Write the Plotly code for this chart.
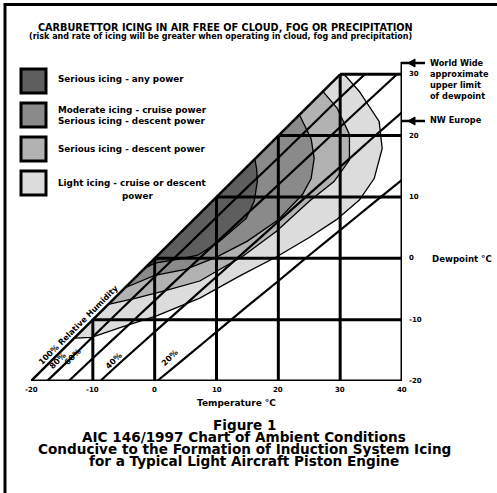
import plotly.graph_objects as go

# ---------------- data ----------------
temp_ticks = [-20, -10, 0, 10, 20, 30, 40]
dew_ticks = [-20, -10, 0, 10, 20, 30]

# relative humidity lines (temperature, dewpoint)
rh80_t = [-17.4, -15, -10, -5, 0, 5, 10, 15, 20, 25, 30, 34.0]
rh80_td = [-20, -17.7, -12.8, -7.9, -3.0, 1.8, 6.7, 11.6, 16.4, 21.3, 26.2, 30]
rh60_t = [-13.9, -10, -5, 0, 5, 10, 15, 20, 25, 30, 35, 39.2]
rh60_td = [-20, -16.3, -11.6, -6.9, -2.1, 2.6, 7.3, 12.0, 16.7, 21.4, 26.1, 30]
rh40_t = [-8.8, -5, 0, 5, 10, 15, 20, 25, 30, 35, 40]
rh40_td = [-20, -16.5, -12.0, -7.5, -3.0, 1.5, 6.0, 10.5, 14.9, 19.4, 23.8]
rh20_t = [0.4, 5, 10, 15, 20, 25, 30, 35, 40]
rh20_td = [-20, -16.2, -12.0, -7.8, -3.7, 0.5, 4.6, 8.7, 12.8]

# icing zones (boundary from 100% RH line round to 100% RH line)
light_t = [-13, -10.2, -5.6, 0.3, 7.3, 13.7, 19.8, 25, 29.4, 33.1, 35.5, 36.8, 36.3, 33.1, 31, 30.5, 30]
light_td = [-13, -12.9, -11.3, -9.4, -6.5, -2.9, 0.3, 3.4, 6.3, 9.5, 13, 17.9, 22.3, 27.2, 29.6, 30, 30]
ml_t = [-7.5, -3, 2, 7.3, 10, 14.2, 19.7, 25, 29, 31.5, 31.5, 29.5, 27.2]
ml_td = [-7.5, -6.5, -5.2, -3.7, -2.1, 0.3, 4.4, 9.3, 12.5, 16, 20.2, 24.5, 27.2]
md_t = [-4.8, 0, 5, 10, 15, 20, 23.9, 25.3, 25.8, 25.3, 23.4]
md_td = [-4.8, -2.8, -1.8, 0.2, 2.8, 6.3, 10.4, 13, 16.3, 19.5, 23.4]
dark_t = [-1.6, 0, 3, 7, 10.5, 14.8, 16.1, 16.6, 16.5, 16.2]
dark_td = [-1.6, -0.8, -0.3, 0.5, 2.8, 6.5, 9.3, 12.5, 14.5, 16.2]

zone_labels = [
    ["Serious icing - any power"],
    ["Moderate icing - cruise power", "Serious icing - descent power"],
    ["Serious icing - descent power"],
    ["Light icing - cruise or descent", "power"],
]
zone_colors = ["#5e5e5e", "#8a8a8a", "#b2b2b2", "#dcdcdc"]

rh_labels = ["100% Relative Humidity", "80%", "60%", "40%", "20%"]

title1 = "CARBURETTOR ICING IN AIR FREE OF CLOUD, FOG OR PRECIPITATION"
title2 = "(risk and rate of icing will be greater when operating in cloud, fog and precipitation)"
caption = ["Figure 1", "AIC 146/1997 Chart of Ambient Conditions",
           "Conducive to the Formation of Induction System Icing",
           "for a Typical Light Aircraft Piston Engine"]

# ---------------- layout helpers ----------------
W, H = 497, 493
L_PX, R_PX, T_PX, B_PX = 31, 402, 62, 381


def px(x):
    return (x - L_PX) / (R_PX - L_PX)


def py(y):
    return (B_PX - y) / (B_PX - T_PX)


FONT = "DejaVu Sans"
fig = go.Figure()

# zones
for t, td, col in [(light_t, light_td, zone_colors[3]), (ml_t, ml_td, zone_colors[2]),
                   (md_t, md_td, zone_colors[1]), (dark_t, dark_td, zone_colors[0])]:
    fig.add_trace(go.Scatter(x=t, y=td, fill="toself", fillcolor=col, mode="lines",
                             line=dict(color="black", width=1.3), hoverinfo="skip",
                             showlegend=False))

# grid lines clipped to the region below the 100% RH line
for v in temp_ticks[1:-1]:
    fig.add_trace(go.Scatter(x=[v, v], y=[-20, v], mode="lines",
                             line=dict(color="black", width=3), showlegend=False))
for v in dew_ticks[1:]:
    fig.add_trace(go.Scatter(x=[v, 40], y=[v, v], mode="lines",
                             line=dict(color="black", width=3), showlegend=False))
# border lines
fig.add_trace(go.Scatter(x=[-20, 40], y=[-20, -20], mode="lines",
                         line=dict(color="black", width=3), showlegend=False))
fig.add_trace(go.Scatter(x=[40, 40], y=[-20, 32], mode="lines",
                         line=dict(color="black", width=3), showlegend=False))
# 100% line
fig.add_trace(go.Scatter(x=[-20, 30], y=[-20, 30], mode="lines",
                         line=dict(color="black", width=2.5), showlegend=False))
for t, td in [(rh80_t, rh80_td), (rh60_t, rh60_td), (rh40_t, rh40_td), (rh20_t, rh20_td)]:
    fig.add_trace(go.Scatter(x=t, y=td, mode="lines", line=dict(color="black", width=2.2),
                             line_shape="spline", showlegend=False))

ann = []
shapes = []


def text(x, y, s, size, xanchor="center", angle=0):
    ann.append(dict(x=px(x), y=py(y), xref="paper", yref="paper", text="<b>" + s + "</b>",
                    showarrow=False, xanchor=xanchor, yanchor="middle", textangle=angle,
                    borderpad=0, font=dict(family=FONT, size=size, color="black")))


# tick labels
for v in temp_ticks:
    ann.append(dict(x=v, y=-20, xref="x", yref="y", text="<b>" + str(v) + "</b>",
                    showarrow=False, xanchor="center", yanchor="middle", yshift=-9,
                    font=dict(family=FONT, size=7, color="black")))
for v in dew_ticks:
    ann.append(dict(x=40, y=v, xref="x", yref="y", text="<b>" + str(v) + "</b>",
                    showarrow=False, xanchor="left", yanchor="middle", xshift=5,
                    font=dict(family=FONT, size=7, color="black")))

# axis titles
text(236, 403, "Temperature °C", 9)
text(431, 259, "Dewpoint °C", 8.6, "left")

# right side notes
for s, y in [("World Wide", 63), ("approximate", 74), ("upper limit", 85), ("of dewpoint", 96),
             ("NW Europe", 120)]:
    text(429, y, s, 8.2, "left")
for y in [63, 121]:
    shapes.append(dict(type="line", xref="paper", yref="paper", x0=px(401), x1=px(425),
                       y0=py(y), y1=py(y), line=dict(color="black", width=2.5)))
    shapes.append(dict(type="path", xref="paper", yref="paper",
                       path=f"M {px(408)} {py(y)} L {px(415)} {py(y-4)} L {px(415)} {py(y+4)} Z",
                       fillcolor="black", line=dict(color="black", width=1)))

# titles
text(225, 27.5, title1, 9.7)
text(220, 36, title2, 8.0)

# legend
box_tops = [68, 102, 136, 170]
for i, top in enumerate(box_tops):
    shapes.append(dict(type="rect", xref="paper", yref="paper", x0=px(21), x1=px(46),
                       y0=py(top + 25), y1=py(top + 1), fillcolor=zone_colors[i],
                       line=dict(color="black", width=3)))
leg_y = [[79], [110, 121], [149], [183, 196]]
for i, lines in enumerate(zone_labels):
    for j, s in enumerate(lines):
        if i == 3 and j == 1:
            text(137, leg_y[i][j], s, 8.8)
        else:
            text(57, leg_y[i][j], s, 8.8, "left")

# RH labels
rh_pos = [(78, 325), (57, 361), (72, 357), (113, 361), (169, 358)]
for s, (x, y) in zip(rh_labels, rh_pos):
    text(x, y, s, 8, angle=-45)

# captions
for s, y in zip(caption, [425, 437, 449, 461]):
    text(244, y, s, 13.6)

# page frame
shapes.append(dict(type="line", xref="paper", yref="paper", x0=px(5), x1=px(5),
                   y0=py(3), y1=py(495), line=dict(color="black", width=3)))
shapes.append(dict(type="line", xref="paper", yref="paper", x0=px(4), x1=px(498),
                   y0=py(4.5), y1=py(4.5), line=dict(color="black", width=3)))

fig.update_layout(
    width=W, height=H, autosize=False,
    margin=dict(l=L_PX, r=W - R_PX, t=T_PX, b=H - B_PX, pad=0),
    plot_bgcolor="white", paper_bgcolor="white",
    xaxis=dict(range=[-20, 40], visible=False, fixedrange=True),
    yaxis=dict(range=[-20, 32], visible=False, fixedrange=True),
    annotations=ann, shapes=shapes, showlegend=False,
)
fig.write_html("out.html", config={"displayModeBar": False},
               post_script="document.body.style.margin='0px';document.body.style.overflow='hidden';")
